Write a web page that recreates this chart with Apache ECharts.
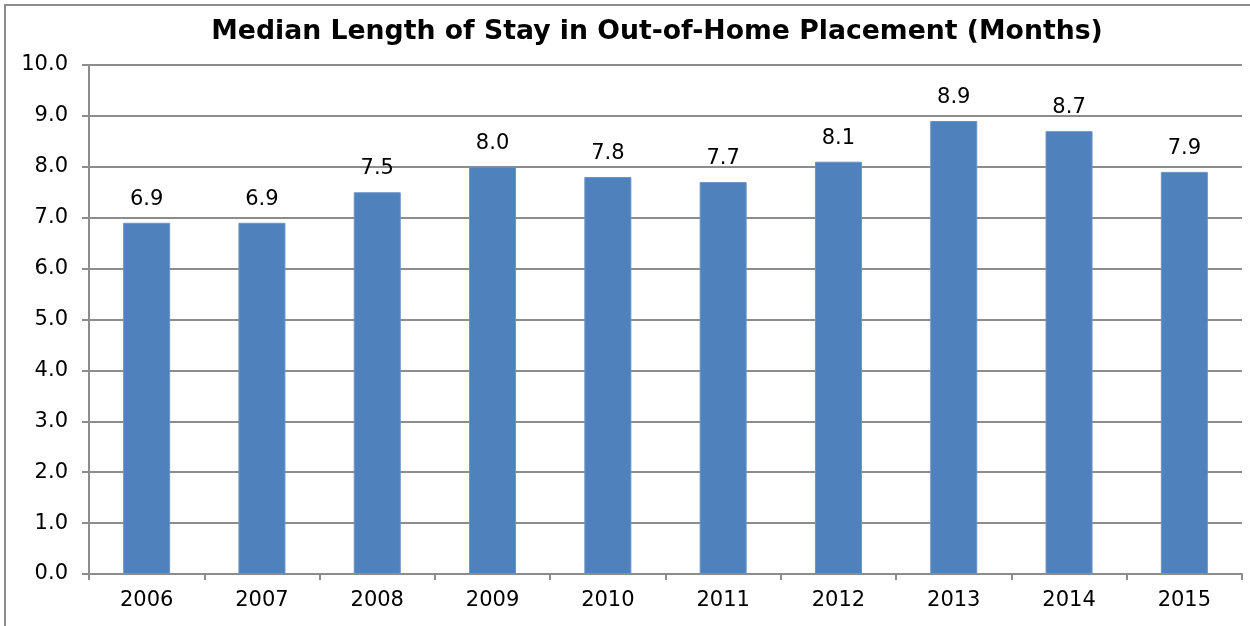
<!DOCTYPE html>
<html>
<head>
<meta charset="utf-8">
<script src="https://cdn.jsdelivr.net/npm/echarts@6/dist/echarts.min.js"></script>
<style>
  html, body { margin: 0; padding: 0; background: #fff; overflow: hidden; }
  #frame { position: absolute; left: 4px; top: 4px; width: 1270px; height: 650px; border: 2px solid #8c8c8c; box-sizing: border-box; }
  #chart { position: absolute; left: 0; top: 0; width: 1250px; height: 626px; }
</style>
</head>
<body>
<div id="frame"></div>
<div id="chart"></div>
<script>
// years and median stay (months)
const years = ['2006', '2007', '2008', '2009', '2010', '2011', '2012', '2013', '2014', '2015']
const medianStay = [6.9, 6.9, 7.5, 8.0, 7.8, 7.7, 8.1, 8.9, 8.7, 7.9]

const myChart = echarts.init(document.getElementById('chart'))
const font = 'DejaVu Sans, Verdana, sans-serif'

const option = {
  animation: false,
  title: {
    text: 'Median Length of Stay in Out-of-Home Placement (Months)',
    left: 652,
    textAlign: 'center',
    top: 14,
    textStyle: { fontFamily: font, fontSize: 26.7, fontWeight: 'bold', color: '#000' }
  },
  grid: { left: 89, right: 8, top: 65, bottom: 52 },
  xAxis: {
    type: 'category',
    data: years,
    axisLine: { lineStyle: { color: '#8c8c8c', width: 2 } },
    axisTick: { show: true, length: 6, lineStyle: { color: '#8c8c8c', width: 2 } },
    axisLabel: { margin: 16, fontFamily: font, fontSize: 21, color: '#000' }
  },
  yAxis: {
    type: 'value',
    min: 0,
    max: 10,
    interval: 1,
    axisLine: { show: true, lineStyle: { color: '#8c8c8c', width: 2 } },
    axisTick: { show: true, inside: false, length: 7, lineStyle: { color: '#8c8c8c', width: 2 } },
    splitLine: { lineStyle: { color: '#8c8c8c', width: 2 } },
    axisLabel: {
      margin: 21,
      fontFamily: font,
      fontSize: 21,
      color: '#000',
      formatter: (v) => v.toFixed(1)
    }
  },
  series: [
    {
      type: 'bar',
      data: medianStay,
      barWidth: 47,
      itemStyle: { color: '#4f81bd', borderColor: '#6a93c6', borderWidth: 1 },
      label: {
        show: true,
        position: 'top',
        distance: 13,
        fontFamily: font,
        fontSize: 21,
        color: '#000',
        formatter: (p) => p.value.toFixed(1)
      }
    }
  ]
}
myChart.setOption(option)
</script>
</body>
</html>
